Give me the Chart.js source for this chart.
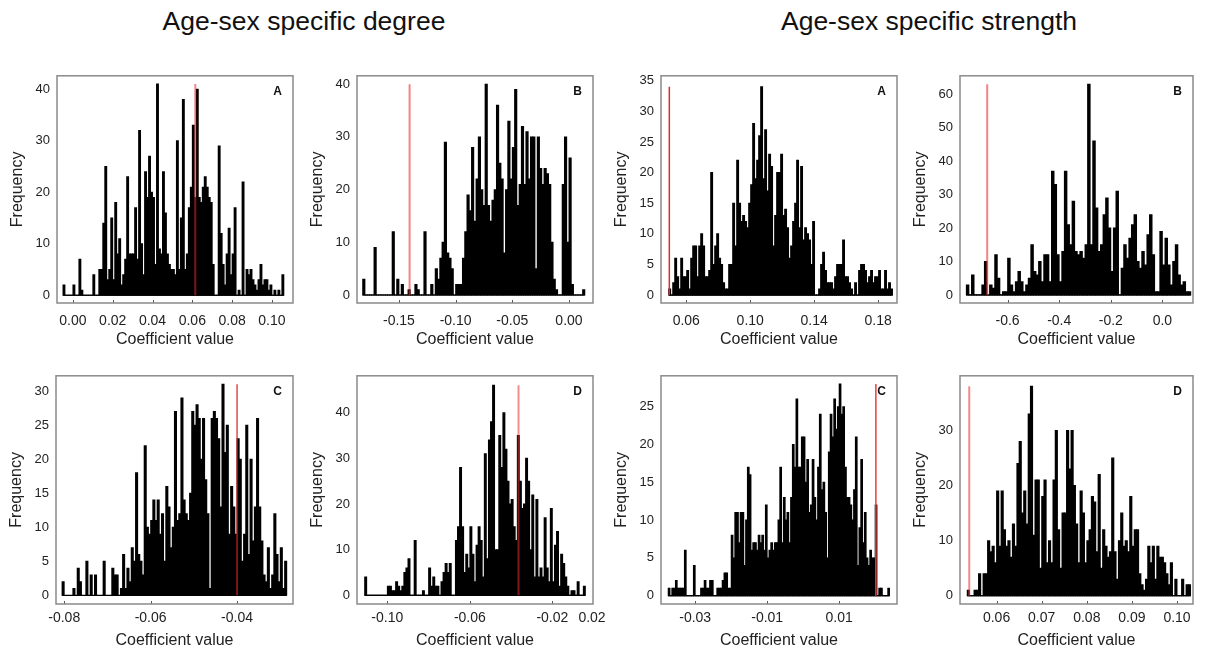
<!DOCTYPE html>
<html>
<head>
<meta charset="utf-8">
<script src="https://cdn.jsdelivr.net/npm/chart.js@4.4.1/dist/chart.umd.min.js"></script>
<style>
  body { margin: 0; background: #fff; width: 1208px; height: 650px; position: relative; overflow: hidden;
         font-family: "Liberation Sans", Arial, sans-serif; }
  canvas { position: absolute; }
  .ttl { position: absolute; top: 6px; width: 500px; text-align: center; font-size: 26.5px; line-height: 30px; color: #111; }
</style>
</head>
<body>
<div class="ttl" style="left:54px">Age-sex specific degree</div>
<div class="ttl" style="left:679px">Age-sex specific strength</div>
<script>
// histogram counts, one array per panel
const degA = [2,0,0,0,0,2,0,0,7,1, 0,0,0,0,0,4,0,0,5,5, 14,25,3,5,15,3,18,8,11,2, 4,7,23,8,8,8,17,7,32,10,
  4,24,19,27,20,19,6,41,9,8, 24,16,8,6,5,5,4,30,5,15, 38,5,8,17,21,33,19,40,19,18, 21,23,21,19,18,6,0,0,29,12,
  6,2,8,13,4,8,17,0,1,0, 22,0,5,4,5,3,2,1,3,6, 2,3,3,1,2,0,1,0,1,0, 4];
const degB = [3,0,0,0,0,9,0,0,0,0, 0,0,0,12,0,3,0,2,0,0, 1,0,0,2,1,0,0,12,0,0, 2,0,5,3,7,10,29,8,7,5,
  0,2,2,2,7,12,19,16,28,14, 22,30,20,17,40,17,14,18,20,36, 25,22,8,20,33,22,28,39,17,21, 32,21,31,22,30,30,5,30,24,21,
  24,23,21,10,3,1,0,0,21,30, 10,26,2,0,0,0,0,1];
const strA = [1,0,2,6,3,1,6,3,3,4, 1,6,8,8,3,8,10,8,3,3, 4,20,5,8,10,6,5,2,1,1, 5,5,15,8,22,15,12,13,12,11,
  15,18,28,19,22,26,34,19,27,17, 23,21,8,13,20,20,23,13,14,11, 6,8,12,15,22,11,21,9,11,10, 9,5,12,0,0,1,5,7,4,2,
  2,2,1,3,5,5,5,9,3,3, 2,1,0,2,0,4,5,5,4,2, 3,4,2,3,3,4,1,1,4,1, 2,1];
const strB = [3,0,6,0,0,0,3,10,0,3, 2,12,5,0,1,1,11,3,1,4, 7,4,1,3,5,15,7,6,10,4, 12,12,4,37,33,12,4,13,37,21,
  15,28,13,12,13,11,15,63,15,46, 26,13,15,24,29,20,7,20,31,0, 8,15,11,17,21,24,10,8,13,9, 18,24,12,1,1,19,9,17,9,3,
  10,15,6,3,4,1,1];
const degC = [2,0,0,0,0,1,0,4,2,0, 0,5,0,3,0,3,0,0,0,5, 0,0,0,4,3,3,0,1,6,1, 4,2,7,5,18,6,5,3,22,10,
  9,11,14,11,14,9,12,5,16,13, 7,10,27,11,12,29,14,12,11,15, 27,25,28,26,20,26,17,12,1,26, 27,26,23,13,31,21,25,9,16,13,
  9,23,20,5,9,25,6,20,8,13, 26,13,8,3,2,7,1,3,12,6, 2,7,1,5];
const degD = [4,0,0,0,0,0,0,0,0,0, 0,2,2,1,1,3,2,1,2,5, 6,8,0,0,12,0,0,0,1,0, 0,6,2,4,2,2,0,3,5,7,
  5,7,0,0,12,15,28,15,5,9, 6,15,9,3,11,15,12,4,31,8, 34,38,46,10,10,35,28,40,32,25, 20,21,15,12,35,25,19,20,30,25,
  10,22,4,21,4,6,4,17,6,3, 19,3,11,14,2,9,7,4,2,0, 1,1,0,3,0,0,2];
const strC = [1,0,1,1,2,1,1,1,1,6, 0,0,0,0,4,0,0,0,1,1, 2,1,1,2,2,0,0,1,1,1, 2,3,3,1,1,8,5,11,11,7,
  11,11,4,10,17,16,6,7,7,6, 8,7,8,6,12,5,6,7,6,7, 7,10,17,7,13,10,11,7,13,20, 17,26,17,17,21,21,15,18,11,12,
  18,13,10,17,24,14,15,11,5,19, 24,21,26,22,25,28,24,25,17,13, 13,12,10,14,21,4,9,18,7,11, 5,4,6,5,5,12,0,1,1,0, 0,0,1];
const strD = [1,0,0,1,1,4,0,4,4,10, 8,9,6,19,9,19,12,9,10,7, 13,9,24,28,15,19,13,33,38,11, 21,21,5,18,21,6,10,6,21,30,
  12,5,15,15,30,23,30,20,13,6, 19,15,6,10,12,18,17,8,22,5, 12,9,7,8,25,8,3,10,15,9, 10,8,18,9,12,12,4,2,1,3,
  9,6,9,3,9,7,7,6,4,2, 6,0,3,0,0,3,0,2,2];

// panel order: top row degree A, B, strength A, B; bottom row degree C, D, strength C, D
const counts   = [degA, degB, strA, strB, degC, degD, strC, strD];
const letters  = ["A", "B", "A", "B", "C", "D", "C", "D"];
const binStart = [-0.005, -0.182, 0.049, -0.76, -0.0805, -0.111, -0.0375, 0.0535];
const binWidth = [0.001, 0.002, 0.00125, 0.01, 0.0005, 0.001, 0.0005, 0.0005];
const observed = [0.0615, -0.1406, 0.0494, -0.679, -0.04, -0.0364, 0.0202, 0.05395];
const xTicks = [
  [0, 0.02, 0.04, 0.06, 0.08, 0.10],
  [-0.15, -0.10, -0.05, 0],
  [0.06, 0.10, 0.14, 0.18],
  [-0.6, -0.4, -0.2, 0],
  [-0.08, -0.06, -0.04],
  [-0.10, -0.06, -0.02],
  [-0.03, -0.01, 0.01],
  [0.06, 0.07, 0.08, 0.09, 0.10]
];
const xDecimals = [2, 2, 2, 1, 2, 2, 2, 2];
const yTicks = [
  [0, 10, 20, 30, 40],
  [0, 10, 20, 30, 40],
  [0, 5, 10, 15, 20, 25, 30, 35],
  [0, 10, 20, 30, 40, 50, 60],
  [0, 5, 10, 15, 20, 25, 30],
  [0, 10, 20, 30, 40],
  [0, 5, 10, 15, 20, 25],
  [0, 10, 20, 30]
];
const xRange = [[-0.0080, 0.1106], [-0.187, 0.0212], [0.0442, 0.1918], [-0.7845, 0.1187],
                [-0.0819, -0.02705], [-0.1147, -0.0003], [-0.0395, 0.02607], [0.0519, 0.10354]];
const yRange = [[-1.5, 42.6], [-1.52, 41.6], [-1.3, 35.8], [-2.4, 65.5],
                [-1.27, 32.25], [-1.9, 48.06], [-1.1, 29.07], [-1.5, 39.9]];
const extraTick = [null, null, null, null, null, "0.02", null, null];

// layout and styling
const boxes = [ // left, top, width, height of the plot frame
  [57, 67, 236, 236], [357, 67, 236, 236], [661, 67, 236, 236], [960, 67, 233, 236],
  [56, 367, 237, 237], [357, 367, 236, 237], [661, 367, 236, 237], [960, 367, 233, 237]
];
const redStyle = [
  ["rgba(230,40,40,0.55)", 2], ["rgba(235,50,50,0.6)", 2], ["#e8262b", 1.5], ["rgba(235,50,50,0.6)", 2],
  ["#d42020", 1.2], ["rgba(235,50,50,0.55)", 2], ["#f03a3a", 1.5], ["rgba(235,60,60,0.6)", 2]
];
const FONT = '"Liberation Sans", Arial, sans-serif';
Chart.defaults.font.family = FONT;

const frame = {
  id: "frame",
  afterDatasetsDraw(chart, args, opts) {
    const { ctx, chartArea: a, scales: { x } } = chart;
    ctx.save();
    ctx.strokeStyle = "#555";
    ctx.lineWidth = 1;
    x.ticks.forEach(t => {
      const px = Math.round(x.getPixelForValue(t.value)) + 0.5;
      ctx.beginPath();
      ctx.moveTo(px, a.bottom);
      ctx.lineTo(px, a.bottom - 3);
      ctx.stroke();
    });
    ctx.strokeStyle = "#8a8a8a";
    ctx.lineWidth = 1.5;
    ctx.strokeRect(a.left, a.top, a.right - a.left, a.bottom - a.top);
    ctx.fillStyle = "#111";
    ctx.font = "bold 12px " + FONT;
    ctx.textAlign = "right";
    ctx.textBaseline = "middle";
    ctx.fillText(opts.letter, a.right - 11, a.top + 16);
    if (opts.extra) {
      ctx.font = "14px " + FONT;
      ctx.fillStyle = "#222";
      ctx.textAlign = "center";
      ctx.fillText(opts.extra, a.right - 1, a.bottom + opts.tickPad + 8.4);
    }
    ctx.restore();
  }
};

function makePanel(k) {
  const [bl, bt, bw, bh] = boxes[k];
  const cv = document.createElement("canvas");
  cv.width = 50 + bw + 14;
  cv.height = 6 + bh + 50;
  cv.style.left = (bl - 50) + "px";
  cv.style.top = (bt - 6) + "px";
  document.body.appendChild(cv);

  const c = counts[k];
  const bars = c.map((v, i) => ({ x: binStart[k] + (i + 0.5) * binWidth[k], y: v }));
  const end = binStart[k] + c.length * binWidth[k];
  const tickPad = k < 4 ? 10 : 6;

  new Chart(cv, {
    type: "bar",
    data: {
      datasets: [
        {
          type: "line", order: 0,
          data: [{ x: observed[k], y: 0 }, { x: observed[k], y: Math.max(...c) }],
          borderColor: redStyle[k][0], borderWidth: redStyle[k][1], pointRadius: 0, fill: false
        },
        {
          type: "line", order: 1,
          data: [{ x: binStart[k], y: 0 }, { x: end, y: 0 }],
          borderColor: "#000", borderWidth: 1.2, pointRadius: 0, fill: false
        },
        {
          type: "bar", order: 2, data: bars, grouped: false,
          backgroundColor: "#000", borderWidth: 0, inflateAmount: 0.45,
          barPercentage: 1, categoryPercentage: 1
        }
      ]
    },
    options: {
      responsive: false,
      animation: false,
      events: [],
      layout: { padding: { left: 0, top: 6, right: 14, bottom: 0 } },
      plugins: {
        legend: { display: false },
        tooltip: { enabled: false },
        frame: { letter: letters[k], extra: extraTick[k], tickPad: tickPad }
      },
      scales: {
        x: {
          type: "linear", offset: false,
          min: xRange[k][0], max: xRange[k][1],
          grid: { display: false, drawTicks: false },
          border: { display: false },
          afterBuildTicks: s => { s.ticks = xTicks[k].map(v => ({ value: v })); },
          afterFit: s => { s.height = 50; },
          ticks: {
            autoSkip: false, maxRotation: 0, padding: tickPad,
            color: "#222", font: { size: 14 },
            callback: v => Number(v).toFixed(xDecimals[k])
          },
          title: { display: true, text: "Coefficient value", color: "#222",
                   font: { size: 16 }, padding: { top: 0, bottom: 3.4 } }
        },
        y: {
          min: yRange[k][0], max: yRange[k][1],
          grid: { display: false, drawTicks: false },
          border: { display: false },
          afterBuildTicks: s => { s.ticks = yTicks[k].map(v => ({ value: v })); },
          afterFit: s => { s.width = 50; },
          ticks: { padding: 7, color: "#222", font: { size: 13 }, callback: v => String(v) },
          title: { display: true, text: "Frequency", color: "#222",
                   font: { size: 16 }, padding: { top: 1.4, bottom: 0 } }
        }
      }
    },
    plugins: [frame]
  });
}

for (let k = 0; k < 8; k++) makePanel(k);
</script>
</body>
</html>
